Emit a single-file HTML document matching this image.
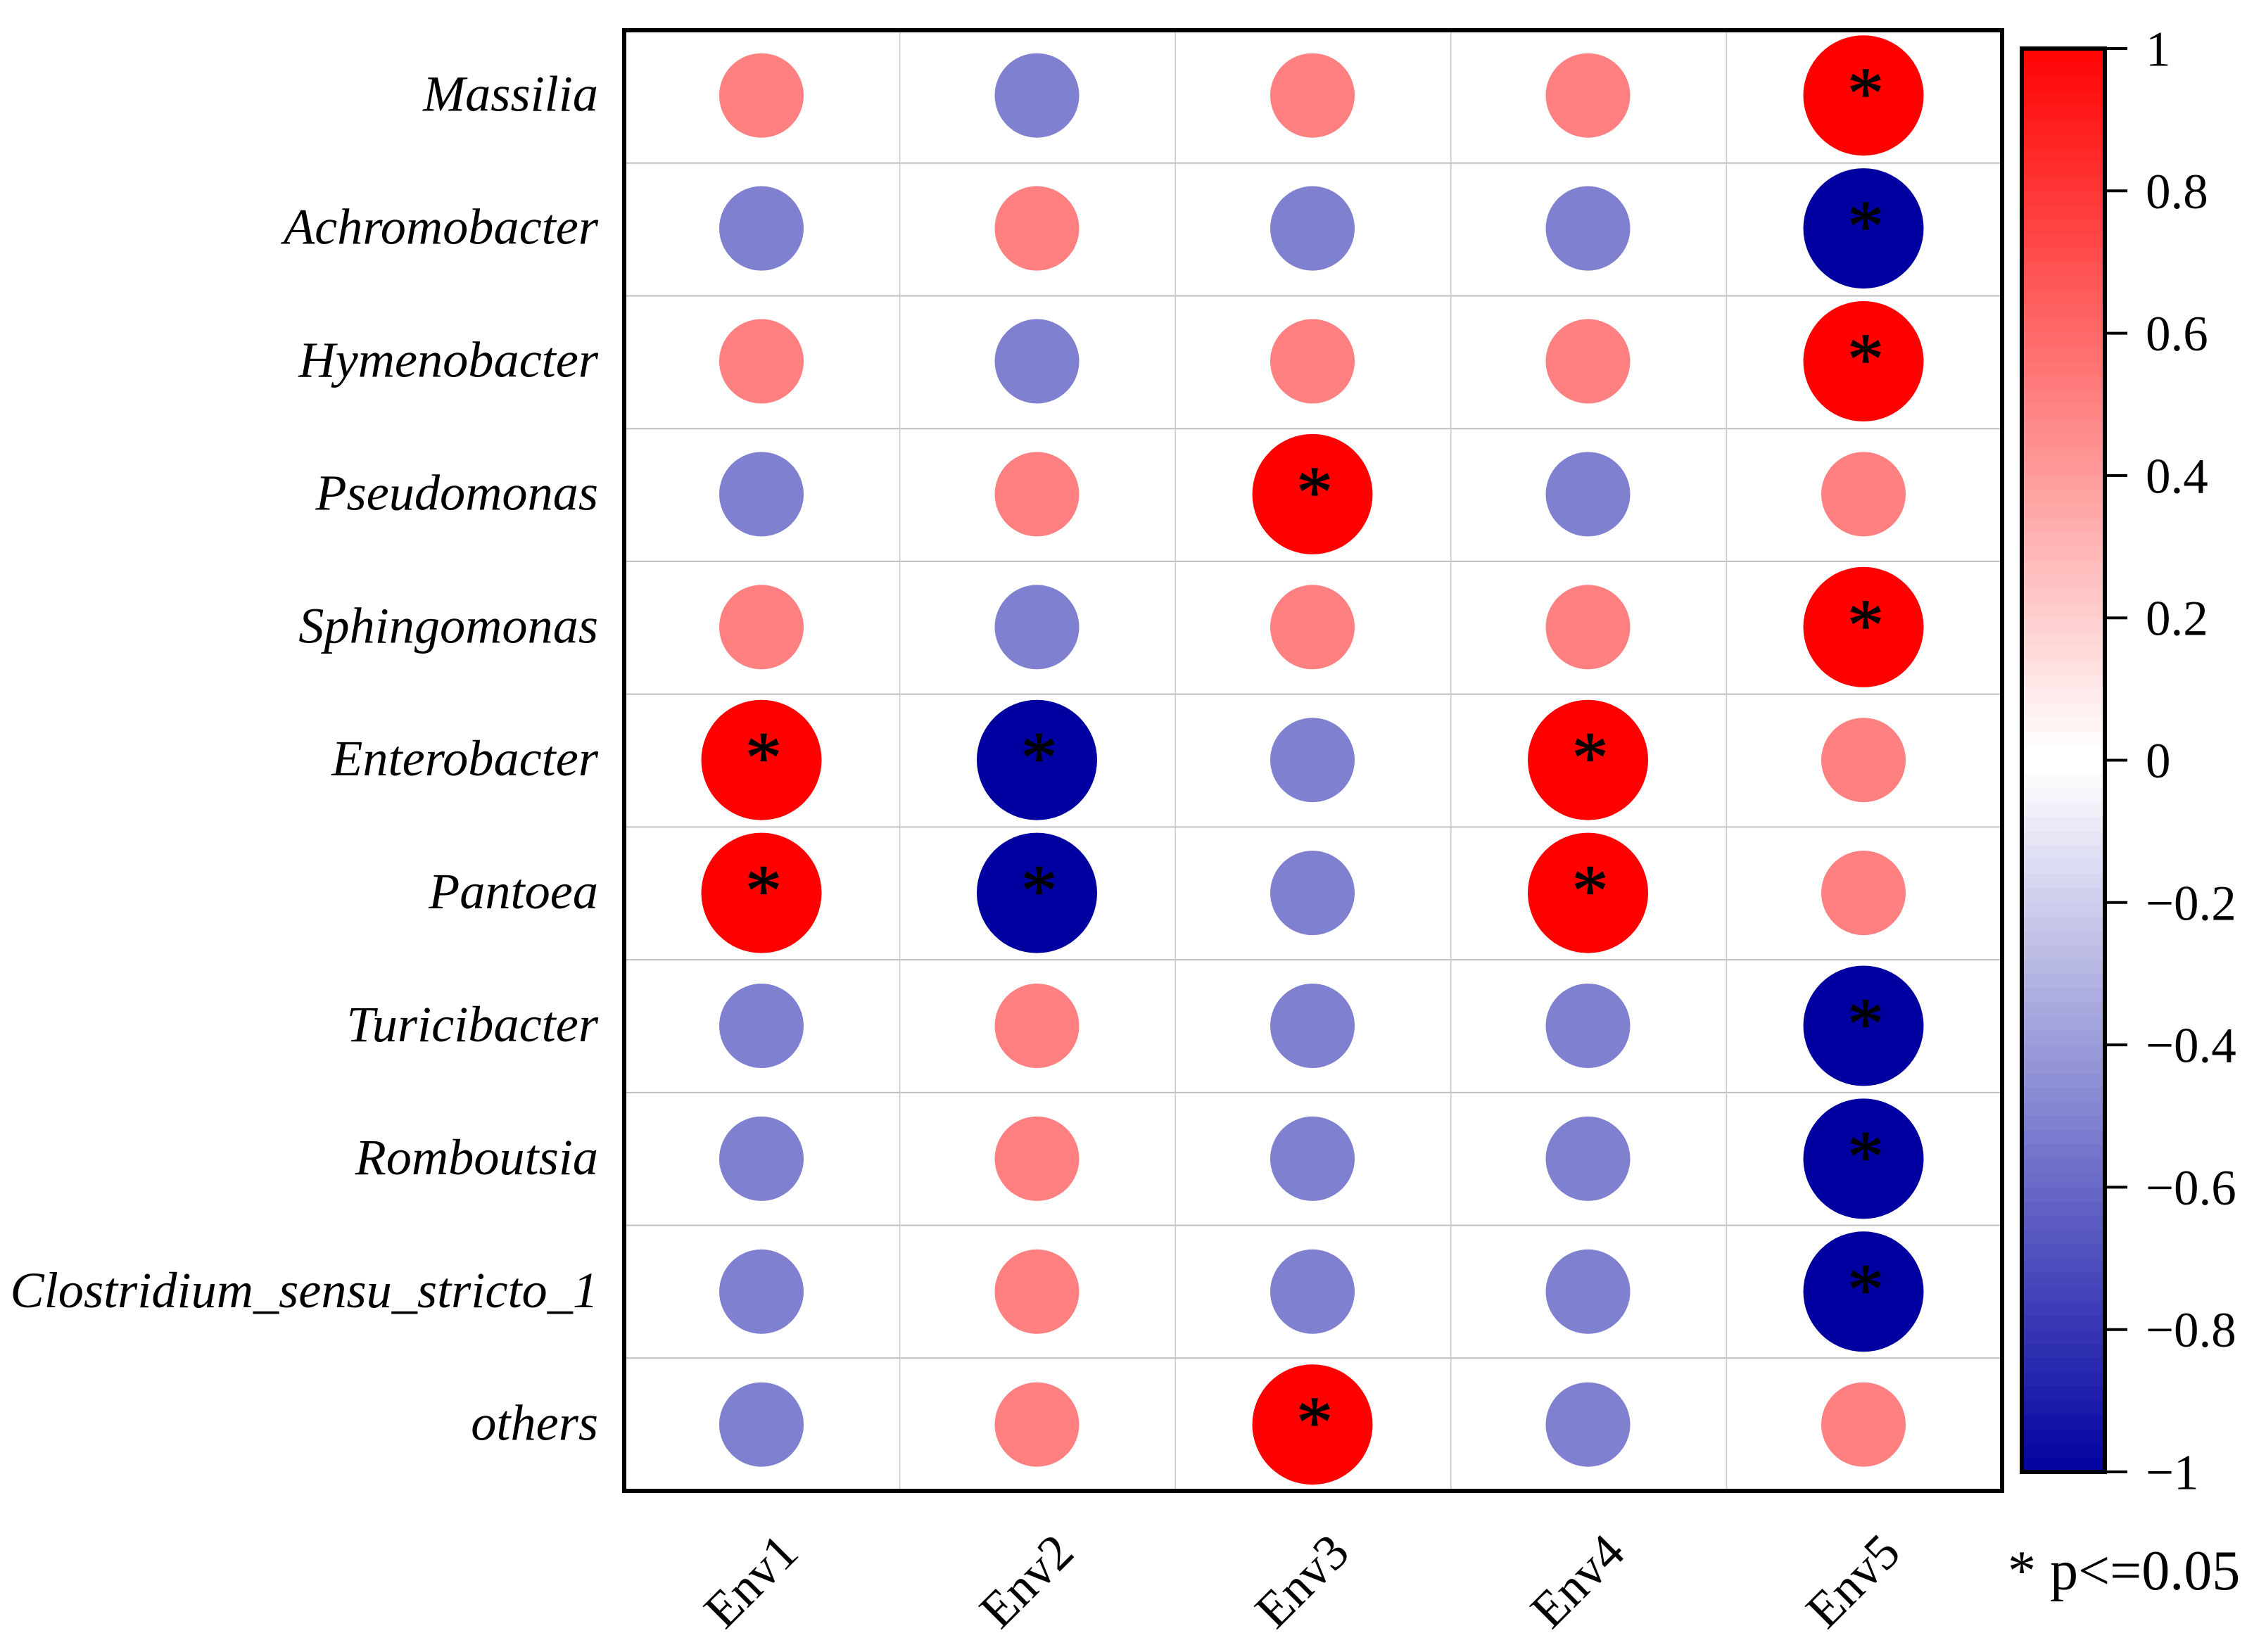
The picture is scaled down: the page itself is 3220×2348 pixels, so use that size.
<!DOCTYPE html>
<html lang="en">
<head>
<meta charset="utf-8">
<title>Genus–environment correlation chart</title>
<style>
  html, body { margin: 0; padding: 0; background: #ffffff; }
  svg { display: block; font-family: "Liberation Serif", serif; }
</style>
</head>
<body>
<svg id="chart" xmlns="http://www.w3.org/2000/svg" width="3220" height="2348" viewBox="0 0 3220 2348">
  <rect x="0" y="0" width="3220" height="2348" fill="#ffffff"/>
  <g id="grid"></g>
  <g id="marks"></g>
  <rect x="887" y="43" width="1958" height="2076" fill="none" stroke="#000000" stroke-width="6"/>
  <g id="ylabels"></g>
  <g id="xlabels"></g>
  <g id="colorbar"></g>
  <text x="2853" y="2259" font-size="80" fill="#000000">* p&lt;=0.05</text>
</svg>
<script>
const genera = ["Massilia", "Achromobacter", "Hymenobacter", "Pseudomonas", "Sphingomonas", "Enterobacter", "Pantoea", "Turicibacter", "Romboutsia", "Clostridium_sensu_stricto_1", "others"];
const envs = ["Env1", "Env2", "Env3", "Env4", "Env5"];
const massilia = [0.5, -0.5, 0.5, 0.5, 1];
const achromobacter = [-0.5, 0.5, -0.5, -0.5, -1];
const hymenobacter = [0.5, -0.5, 0.5, 0.5, 1];
const pseudomonas = [-0.5, 0.5, 1, -0.5, 0.5];
const sphingomonas = [0.5, -0.5, 0.5, 0.5, 1];
const enterobacter = [1, -1, -0.5, 1, 0.5];
const pantoea = [1, -1, -0.5, 1, 0.5];
const turicibacter = [-0.5, 0.5, -0.5, -0.5, -1];
const romboutsia = [-0.5, 0.5, -0.5, -0.5, -1];
const clostridium = [-0.5, 0.5, -0.5, -0.5, -1];
const others = [-0.5, 0.5, 1, -0.5, 0.5];
const colorbarTicks = [1, 0.8, 0.6, 0.4, 0.2, 0, -0.2, -0.4, -0.6, -0.8, -1];
const colorbarTickLabels = ["1", "0.8", "0.6", "0.4", "0.2", "0", "\u22120.2", "\u22120.4", "\u22120.6", "\u22120.8", "\u22121"];

const rowValues = [massilia, achromobacter, hymenobacter, pseudomonas, sphingomonas, enterobacter, pantoea, turicibacter, romboutsia, clostridium, others];

const SVG_NS = "http://www.w3.org/2000/svg";
function make(tag, parent, attrs, text) {
  const el = document.createElementNS(SVG_NS, tag);
  for (const k in attrs) el.setAttribute(k, attrs[k]);
  if (text !== undefined) el.textContent = text;
  parent.appendChild(el);
  return el;
}

/* axis functions */
function xScale(i) { return 1082 + 391.5 * i; }
function yScale(i) { return 135.7 + 188.9 * i; }
function gridX(i) { return 887 + 391.6 * i; }
function gridY(i) { return 43 + 188.73 * i; }
function radiusScale(v) { return 34.5 + 51 * Math.abs(v); }
function colorScale(v) {
  const t = Math.min(1, Math.abs(v));
  if (v >= 0) {
    const c = Math.round(255 * (1 - t));
    return "rgb(255," + c + "," + c + ")";
  }
  const c = Math.round(255 * (1 - t));
  const b = Math.round(255 - 95 * t);
  return "rgb(" + c + "," + c + "," + b + ")";
}
function barY(v) { return 1080.5 - 1011.5 * v; }
const significanceLevel = 0.8;

/* grid */
const gridG = document.getElementById("grid");
for (let i = 1; i < genera.length; i++) {
  const line = make("line", gridG, { x1: gridX(0), x2: gridX(envs.length), y1: gridY(i), y2: gridY(i), stroke: "#bfbfbf", "stroke-width": 2 });
  
  
}
for (let i = 1; i < envs.length; i++) {
  const line = make("line", gridG, { x1: gridX(i), x2: gridX(i), y1: gridY(0), y2: gridY(genera.length), stroke: "#c8c8c8", "stroke-width": 1.5 });
  
  
}

/* circles and significance stars */
const marksG = document.getElementById("marks");
rowValues.forEach(function (row, r) {
  row.forEach(function (v, c) {
    const circle = make("circle", marksG, { cx: xScale(c), cy: yScale(r), r: radiusScale(v), fill: colorScale(v) });
    
    
    if (Math.abs(v) >= significanceLevel) {
      const star = make("text", marksG, { x: xScale(c) + 3, y: yScale(r) + 31.5, "font-size": 104, "text-anchor": "middle", fill: "#000000", stroke: "#000000", "stroke-width": 1.2 }, "*");
      
      
    }
  });
});

/* y labels */
const yG = document.getElementById("ylabels");
genera.forEach(function (name, r) {
  const label = make("text", yG, { x: 850, y: yScale(r) + 22, "font-size": 72.3, "font-style": "italic", "text-anchor": "end", fill: "#000000" }, name);
  
  
});

/* x labels */
const xG = document.getElementById("xlabels");
envs.forEach(function (name, c) {
  const px = xScale(c) - 15;
  const py = 2247;
  const label = make("text", xG, { x: 0, y: 24, transform: "translate(" + px + " " + py + ") rotate(-45)", "font-size": 72, "text-anchor": "middle", fill: "#000000" }, name);
  
  
});

/* colorbar */
const cbG = document.getElementById("colorbar");
const bandCount = 100;
for (let i = 0; i < bandCount; i++) {
  const hi = 1 - 2 * i / bandCount;
  const lo = 1 - 2 * (i + 1) / bandCount;
  const mid = Math.abs(hi) < Math.abs(lo) ? hi : lo;
  const band = make("rect", cbG, { x: 2873, width: 118, y: barY(hi), height: barY(lo) - barY(hi) + 0.6, fill: colorScale(mid) });
  
  
}
const cbFrame = make("rect", cbG, { x: 2873, y: barY(1), width: 118, height: barY(-1) - barY(1), fill: "none", stroke: "#000000", "stroke-width": 6 });


colorbarTicks.forEach(function (v, i) {
  const tick = make("line", cbG, { x1: 2991, x2: 3023, y1: barY(v), y2: barY(v), stroke: "#000000", "stroke-width": 4 });
  
  
  const label = make("text", cbG, { x: 3049, y: barY(v) + 24.5, "font-size": 71, fill: "#000000" }, colorbarTickLabels[i]);
  
  
});
</script>
</body>
</html>
